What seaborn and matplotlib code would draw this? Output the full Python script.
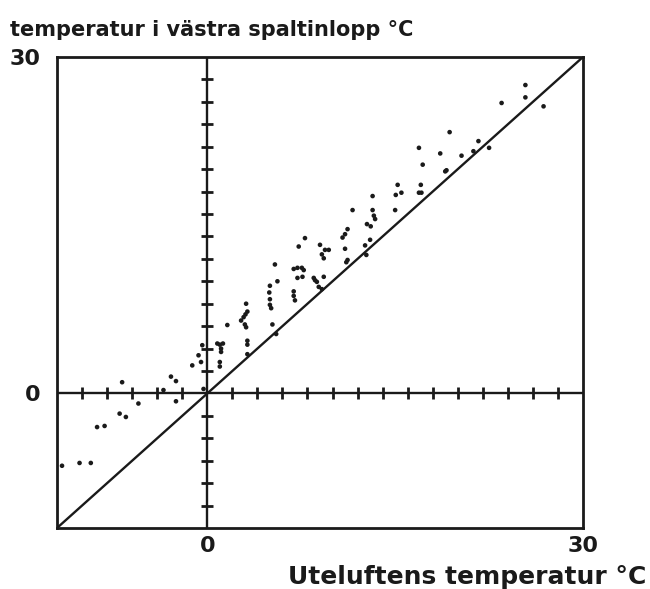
import numpy as np
import pandas as pd
import matplotlib
matplotlib.use("Agg")
import matplotlib.pyplot as plt
import seaborn as sns

# Outdoor air temperature (°C) vs. temperature in the western gap inlet (°C)
outdoor_temp = [
    -11.6, -10.2, -9.3, -8.8, -8.2, -7.0, -6.5, -6.8, -5.5, -3.5, -2.9, -2.5, -2.5, -0.3,
    -1.2, -0.7, -0.4, -0.5,
    0.8, 1.0, 1.25, 1.1, 1.1, 1.0, 1.0, 1.6,
    2.7, 2.9, 3.05, 3.2, 3.0, 3.1, 3.2, 3.2, 3.2, 3.1,
    4.95, 5.0, 5.0, 5.1, 5.2, 5.5, 5.4, 5.0, 5.6,
    7.8, 7.3, 6.9, 7.2, 7.55, 7.7, 7.2, 7.6, 6.9, 6.9, 7.0,
    8.5, 8.6, 8.75, 9.3, 8.9, 9.15,
    9.0, 9.4, 9.7, 9.15, 9.3,
    10.8, 11.0, 11.2, 11.0, 11.2, 11.1,
    12.6, 11.6, 13.0, 12.7, 12.75, 13.05, 13.3, 13.4, 13.2, 13.2,
    15.0, 15.05, 15.5, 15.2, 16.9, 17.1, 17.05, 17.2, 18.6, 19.0, 19.1, 16.9,
    19.35, 20.3, 21.25, 21.65, 22.5, 23.5, 25.4, 25.4, 26.85,
]
inlet_temp = [
    -6.45, -6.2, -6.2, -3.0, -2.9, -1.8, -2.1, 1.0, -0.9, 0.3, 1.5, 1.1, -0.7, 0.4,
    2.5, 3.4, 4.3, 2.8,
    4.45, 4.35, 4.45, 4.0, 3.7, 2.8, 2.4, 6.1,
    6.5, 6.8, 7.05, 7.3, 6.15, 5.9, 4.7, 4.35, 3.5, 8.0,
    9.0, 8.4, 7.9, 7.6, 6.15, 5.3, 11.5, 9.6, 10.0,
    13.85, 13.1, 11.1, 11.2, 11.2, 11.0, 10.3, 10.4, 9.1, 8.7, 8.3,
    10.3, 10.1, 9.95, 10.4, 9.5, 9.3,
    13.25, 12.8, 12.8, 12.4, 12.05,
    13.9, 14.2, 14.65, 12.9, 11.9, 11.7,
    13.2, 16.35, 13.7, 12.35, 15.1, 14.9, 15.85, 15.55, 16.35, 17.6,
    16.35, 17.7, 17.9, 18.6, 17.9, 17.9, 18.6, 20.4, 21.4, 19.8, 19.9, 21.9,
    23.3, 21.2, 21.6, 22.5, 21.9, 25.9, 27.5, 26.4, 25.6,
]

axis_min, axis_max = -12, 30
labelled_ticks = [0, 30]
tick_labels = ["0", "30"]
xlabel = "Uteluftens temperatur °C"
ylabel = "temperatur i västra spaltinlopp °C"

df = pd.DataFrame({"ute": outdoor_temp, "inlopp": inlet_temp})

sns.set_style("white")
plt.rcParams["font.family"] = ["DejaVu Sans"]

fig = plt.figure(figsize=(6.5, 5.89), dpi=100)
ax = fig.add_axes([57 / 650, 1 - 528 / 589, (583 - 57) / 650, (528 - 57) / 589])

ink = "#1a1a1a"

# zero axes with crossing tick marks every 2 degrees
ax.axhline(0, color=ink, lw=1.7, zorder=2)
ax.axvline(0, color=ink, lw=1.7, zorder=2)
minor = [v for v in np.arange(axis_min + 2, axis_max, 2) if v != 0]
ax.plot(minor, [0] * len(minor), ls="none", marker="|", ms=8, mew=2.0, color=ink, zorder=2)
ax.plot([0] * len(minor), minor, ls="none", marker="_", ms=8, mew=2.0, color=ink, zorder=2)

# reference line y = x
ax.plot([axis_min, axis_max], [axis_min, axis_max], color=ink, lw=1.7, zorder=2)

sns.scatterplot(data=df, x="ute", y="inlopp", ax=ax, color=ink, s=11,
                edgecolor="none", zorder=3, legend=False)

ax.set_xlim(axis_min, axis_max)
ax.set_ylim(axis_min, axis_max)
ax.set_xticks(labelled_ticks)
ax.set_xticklabels(tick_labels)
ax.set_yticks(labelled_ticks)
ax.set_yticklabels(tick_labels)
ax.tick_params(axis="both", length=0, labelsize=16, colors=ink)
ax.tick_params(axis="x", pad=6)
ax.tick_params(axis="y", pad=12)
for lab in ax.get_xticklabels() + ax.get_yticklabels():
    lab.set_fontweight("bold")
ax.set_xlabel("")
ax.set_ylabel("")

for sp in ax.spines.values():
    sp.set_visible(True)
    sp.set_color(ink)
    sp.set_linewidth(2.0)

fig.text(10 / 650, 1 - 30 / 589, ylabel, fontsize=15, fontweight="bold",
         color=ink, ha="left", va="center")
fig.text(646 / 650, 1 - 577 / 589, xlabel, fontsize=18, fontweight="bold",
         color=ink, ha="right", va="center")

fig.savefig("out.png", dpi=100, facecolor="white")
